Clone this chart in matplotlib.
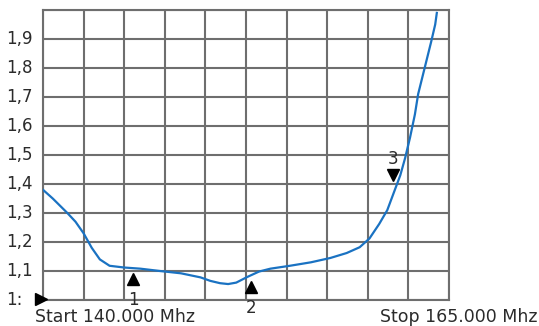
import matplotlib.pyplot as plt

# sweep (MHz, SWR)
freq = [140.0, 140.6, 141.5, 142.0, 142.5, 143.0, 143.5, 144.1, 145.0, 146.0,
        147.2, 148.5, 149.7, 150.3, 150.9, 151.4, 151.9, 152.6, 153.3, 154.0,
        155.2, 156.5, 157.7, 158.7, 159.5, 160.1, 160.7, 161.2, 161.6, 162.0,
        162.3, 162.6, 162.9, 163.1, 163.5, 163.9, 164.15, 164.25]
swr = [1.38, 1.35, 1.30, 1.27, 1.23, 1.18, 1.14, 1.118, 1.112, 1.108,
       1.100, 1.092, 1.078, 1.066, 1.058, 1.055, 1.060, 1.080, 1.098, 1.108,
       1.118, 1.130, 1.145, 1.162, 1.182, 1.212, 1.262, 1.31, 1.37, 1.43,
       1.49, 1.56, 1.64, 1.71, 1.80, 1.89, 1.95, 1.99]

yticks = [1.0, 1.1, 1.2, 1.3, 1.4, 1.5, 1.6, 1.7, 1.8, 1.9]
ylabels = ['1:', '1,1', '1,2', '1,3', '1,4', '1,5', '1,6', '1,7', '1,8', '1,9']

markers = [('1', 145.55, 1.072, '^'), ('2', 152.8, 1.045, '^'), ('3', 161.55, 1.43, 'v')]

grid_col = '#6e6e6e'
text_col = '#2b2b2b'

fig = plt.figure(figsize=(5.39, 3.26), dpi=100)
ax = fig.add_axes([43 / 539, 26 / 326, 406 / 539, 290 / 326])

ax.set_xlim(140, 165)
ax.set_ylim(1.0, 2.0)
ax.set_xticks([140 + 2.5 * i for i in range(11)])
ax.set_yticks([1.0 + 0.1 * i for i in range(11)])
ax.grid(True, color=grid_col, linewidth=1.5)
ax.tick_params(length=0, labelbottom=False, labelleft=False)
for s in ax.spines.values():
    s.set_color(grid_col)
    s.set_linewidth(1.5)

ax.plot(freq, swr, color='#1a72c2', linewidth=1.6, zorder=3)

tr = ax.get_yaxis_transform()
for v, lab in zip(yticks, ylabels):
    ax.text(-0.09, v, lab, transform=tr, ha='left', va='center',
            fontsize=12, color=text_col)

ax.plot([139.85], [1.005], marker='>', color='black', markersize=8, clip_on=False, zorder=4)

for lab, f, y, m in markers:
    ax.plot([f], [y], marker=m, color='black', markersize=8, linestyle='none', zorder=4, clip_on=False)
    if m == '^':
        ax.text(f, y - 0.04, lab, ha='center', va='top', fontsize=12, color=text_col, clip_on=False)
    else:
        ax.text(f, y + 0.025, lab, ha='center', va='bottom', fontsize=12, color=text_col)

fig.text(35 / 539, 1 - 317 / 326, 'Start 140.000 Mhz', ha='left', va='center',
         fontsize=12.5, color=text_col)
fig.text(537 / 539, 1 - 317 / 326, 'Stop 165.000 Mhz', ha='right', va='center',
         fontsize=12.5, color=text_col)

fig.savefig('out.png', dpi=100, facecolor='white')
